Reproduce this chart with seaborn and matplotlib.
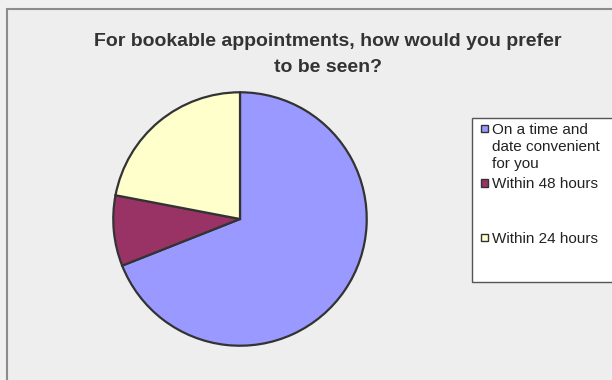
import matplotlib
matplotlib.use("Agg")
import matplotlib.pyplot as plt
from matplotlib.patches import Rectangle
import seaborn as sns

# Survey answers (share of respondents, %)
categories = ["On a time and\ndate convenient\nfor you", "Within 48 hours", "Within 24 hours"]
shares = [69, 9, 22]
colors = ["#9999FF", "#993366", "#FFFFCC"]
title_lines = ["For bookable appointments, how would you prefer", "to be seen?"]

sns.set_theme(style="white")
plt.rcParams["font.family"] = ["Liberation Sans", "DejaVu Sans"]
palette = sns.color_palette(colors)

W, H = 612, 380
fig = plt.figure(figsize=(W / 100, H / 100), dpi=100)
fig.patch.set_facecolor("#F0F0F0")


def fx(px):
    return px / W


def fy(py):
    return 1 - py / H


# chart area frame
fig.patches.append(Rectangle((fx(6.5), fy(400)), fx(700), 391 / H,
                             transform=fig.transFigure, facecolor="#EEEEEE",
                             edgecolor="#8C8C8C", linewidth=1.5, zorder=-5))

# pie
cx, cy, r = 240, 219, 128
ax = fig.add_axes([fx(cx - r), fy(cy + r), 2 * r / W, 2 * r / H])
ax.set_zorder(5)
ax.pie(shares, colors=palette, startangle=90, counterclock=False,
       radius=0.99, wedgeprops=dict(edgecolor="#333333", linewidth=1.6))
ax.set_xlim(-1, 1)
ax.set_ylim(-1, 1)
ax.set_axis_off()

# title
for k, line in enumerate(title_lines):
    fig.text(fx(328), fy(46.5 + 25 * k), line, ha="center", va="baseline",
             fontsize=14, fontweight="bold", color="#333333")

# legend
fig.patches.append(Rectangle((fx(472), fy(282)), fx(200), 164 / H,
                             transform=fig.transFigure, facecolor="white",
                             edgecolor="#555555", linewidth=1.0, zorder=1))
first_base = 134
for i, (lab, col) in enumerate(zip(categories, palette)):
    b = first_base + 54.5 * i
    fig.patches.append(Rectangle((fx(480.5), fy(b - 2)), fx(7), 7.5 / H,
                                 transform=fig.transFigure, facecolor=col,
                                 edgecolor="#333333", linewidth=1.0, zorder=2))
    for j, line in enumerate(lab.split("\n")):
        fig.text(fx(491.5), fy(b + 17 * j), line, ha="left", va="baseline",
                 fontsize=11, color="#222222", zorder=3)

fig.savefig("out.png", dpi=100, facecolor=fig.get_facecolor())
